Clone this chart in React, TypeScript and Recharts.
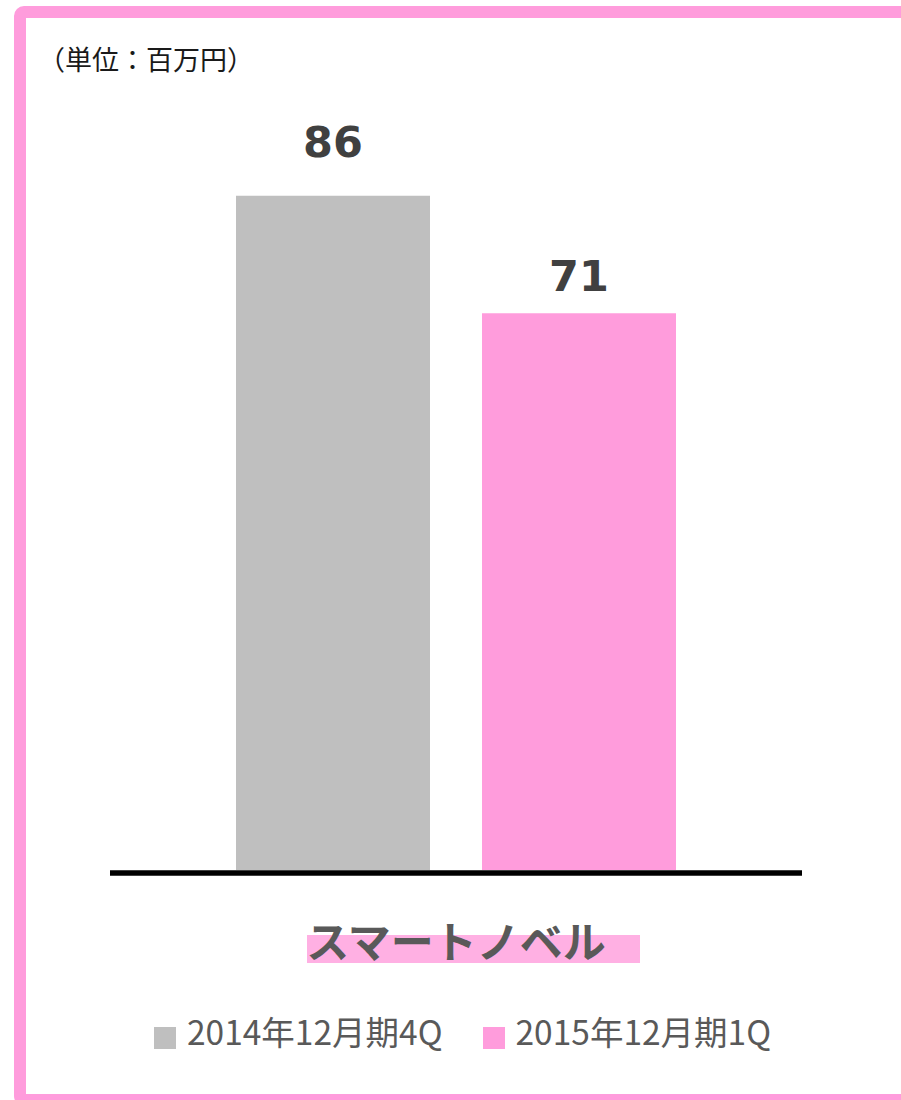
import { BarChart, Bar, XAxis, YAxis, Legend, LabelList } from 'recharts';

const categories = ['スマートノベル'];
const seriesNames = ['2014年12月期4Q', '2015年12月期1Q'];
const values2014Q4 = [86];
const values2015Q1 = [71];
const unitLabel = '（単位：百万円）';

const GRAY = '#BFBFBF';
const PINK = '#FF9CDC';
const TEXT = '#595959';
const JP = '"Noto Sans CJK JP", "Noto Sans", sans-serif';

const data = categories.map((name, i) => ({
  name,
  q2014: values2014Q4[i],
  q2015: values2015Q1[i],
}));

const CategoryTick = ({ x, y, payload }: { x?: number; y?: number; payload?: { value: string } }) => {
  const cx = x ?? 0;
  const cy = y ?? 0;
  return (
    <g>
      <rect x={cx - 149} y={cy + 65} width={333} height={28} fill="#FFB0E3" />
      <text x={cx} y={cy + 88} textAnchor="middle" fontSize={43} fontWeight={700} fill={TEXT} fontFamily={JP}>
        {payload?.value}
      </text>
    </g>
  );
};

const LegendContent = () => (
  <div style={{ height: 40, display: 'flex', alignItems: 'flex-start', paddingLeft: 154, fontFamily: JP }}>
    {seriesNames.map((n, i) => (
      <div key={n} style={{ display: 'flex', alignItems: 'flex-start', marginRight: 40 }}>
        <span style={{ width: 22, height: 22, marginTop: 16, background: i === 0 ? GRAY : PINK, display: 'inline-block' }} />
        <span style={{ marginLeft: 11, fontSize: 33.5, lineHeight: '40px', color: TEXT, whiteSpace: 'nowrap' }}>{n}</span>
      </div>
    ))}
  </div>
);

export default function App() {
  return (
    <div style={{ position: 'absolute', left: 0, top: 0, width: 901, height: 1100, overflow: 'hidden', background: '#fff' }}>
      <div style={{
        position: 'absolute', left: 14, top: 6, width: 1000, height: 1100,
        border: `12px solid ${PINK}`, borderRadius: 10, boxSizing: 'border-box',
      }} />
      <div style={{ position: 'absolute', left: 38, top: 45, fontSize: 27, lineHeight: '28px', fontFamily: JP, color: '#1a1a1a', whiteSpace: 'nowrap' }}>
        {unitLabel}
      </div>
      <div style={{ position: 'absolute', left: 0, top: 0, fontFamily: '"DejaVu Sans", sans-serif' }}>
        <BarChart width={901} height={1100} data={data} margin={{ top: 86, right: 99, bottom: 49, left: 110 }} barSize={194} barGap={52}>
          <YAxis hide domain={[0, 100]} />
          <XAxis
            dataKey="name"
            height={141}
            tickLine={false}
            tickSize={0}
            tickMargin={0}
            axisLine={{ stroke: '#000', strokeWidth: 5.5, transform: 'translate(0,3)' }}
            tick={<CategoryTick />}
          />
          <Legend verticalAlign="bottom" wrapperStyle={{ left: 0, width: 901 }} content={<LegendContent />} />
          <Bar dataKey="q2014" name={seriesNames[0]} fill={GRAY} isAnimationActive={false}>
            <LabelList dataKey="q2014" position="top" offset={39} fontSize={43} fontWeight={700} fill="#404040" fontFamily='"DejaVu Sans", sans-serif' />
          </Bar>
          <Bar dataKey="q2015" name={seriesNames[1]} fill={PINK} isAnimationActive={false}>
            <LabelList dataKey="q2015" position="top" offset={22} fontSize={43} fontWeight={700} fill="#404040" fontFamily='"DejaVu Sans", sans-serif' />
          </Bar>
        </BarChart>
      </div>
    </div>
  );
}
